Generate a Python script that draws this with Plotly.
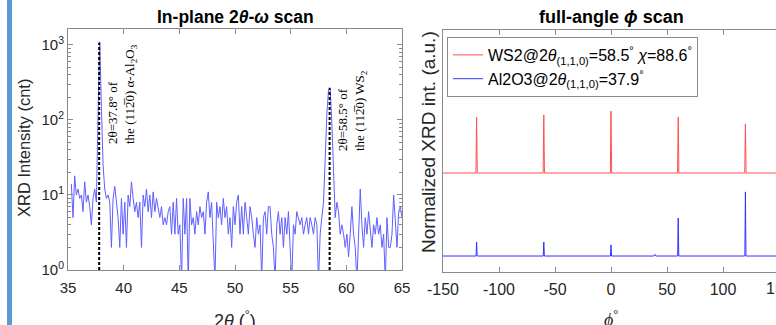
import plotly.graph_objects as go

W, H = 776, 325

# ---------------- Left panel: in-plane 2theta-omega scan ----------------
two_theta_start = 35.3
two_theta_step = 0.15
counts = [
    14, 5, 18, 10, 12, 9, 10, 6, 15, 8,
    10, 7, 4, 9, 12, 8, 120, 1100, 150, 25,
    12, 9, 10, 8, 2, 9, 13, 8, 5, 2,
    9, 3, 8, 2, 10, 7, 15, 9, 6, 8,
    5, 8, 2, 10, 7, 12, 6, 10, 5, 11,
    6, 9, 7, 5, 7, 4, 5, 4, 6, 7,
    3, 8, 3, 9, 3, 4, 0.7, 9, 3, 9,
    0.7, 9, 4, 5, 3, 6, 4, 7, 5, 6,
    3, 8, 11, 5, 8, 3, 0.7, 8, 5, 7,
    4, 9, 5, 7, 3, 5, 2, 7, 4, 8,
    10, 3, 7, 3, 8, 5, 3, 7, 5, 3,
    2, 5, 3, 4, 0.7, 5, 6, 3, 7, 7,
    3, 2, 0.7, 4, 6, 3, 5, 2, 5, 3,
    6, 2, 0.7, 4, 3, 6, 5, 4, 5, 3,
    4, 5, 3, 5, 4, 3, 5, 4, 0.7, 3,
    5, 8, 30, 120, 250, 260, 90, 15, 5, 8,
    6, 3, 4, 3, 2, 3, 1.5, 3, 7, 3,
    2, 0.7, 3, 12, 4, 2, 5, 3, 6, 3,
    2, 4, 3, 5, 3, 4, 2, 3, 0.7, 5,
    2, 2, 3, 10, 4, 2, 6, 7, 5,
]
two_theta = [round(two_theta_start + two_theta_step * i, 2) for i in range(len(counts))]

peak_pos = [37.8, 58.5]
peak_top = [1070, 268]
peak_labels = [
    "2θ=37.8° of<br>the (112\u03050) α-Al<sub>2</sub>O<sub>3</sub>",
    "2θ=58.5° of<br>the (112\u03050) WS<sub>2</sub>",
]

x_ticks_left = [35, 40, 45, 50, 55, 60, 65]
y_ticks_left = [1, 10, 100, 1000]
y_ticktext_left = ["10<sup>0</sup>", "10<sup>1</sup>", "10<sup>2</sup>", "10<sup>3</sup>"]
y_minor_left = [m * 10 ** k for k in range(0, 4) for m in range(2, 10)]

# ---------------- Right panel: full-angle phi scan ----------------
phi_ws2 = [-150, -120.6, -120, -119.4, -60.6, -60, -59.4, -0.6, 0, 0.6,
           59.4, 60, 60.6, 119.4, 120, 120.6, 150]
int_ws2 = [0.409, 0.409, 0.640, 0.409, 0.409, 0.649, 0.409, 0.409, 0.665, 0.409,
           0.409, 0.640, 0.409, 0.409, 0.612, 0.409, 0.409]
phi_al2o3 = [-150, -120.5, -120, -119.5, -60.5, -60, -59.5, -0.5, 0, 0.5,
             38, 39, 40, 59.5, 60, 60.5, 119.5, 120, 120.5, 150]
int_al2o3 = [0.066, 0.066, 0.124, 0.066, 0.066, 0.124, 0.066, 0.066, 0.112, 0.066,
             0.066, 0.073, 0.066, 0.066, 0.223, 0.066, 0.066, 0.331, 0.066, 0.066]
x_ticks_right = [-150, -100, -50, 0, 50, 100]
x_ticktext_right = ["-150", "-100", "-50", "0", "50", "100"]

legend_ws2 = "WS2@2<i>θ</i><sub>(1,1,0)</sub>=58.5<sup>°</sup> <i>χ</i>=88.6<sup>°</sup>"
legend_al2o3 = "Al2O3@2<i>θ</i><sub>(1,1,0)</sub>=37.9<sup>°</sup>"

SANS = "Liberation Sans, Arial, sans-serif"
SERIF = "Liberation Serif, Times New Roman, serif"
AXC = "#8a8a8a"
TXC = "#262626"

fig = go.Figure()

fig.add_trace(go.Scatter(x=two_theta, y=counts, mode="lines",
                         line=dict(color="rgb(95,95,255)", width=1),
                         showlegend=False, xaxis="x", yaxis="y"))
for p, t in zip(peak_pos, peak_top):
    fig.add_trace(go.Scatter(x=[p, p], y=[1, t], mode="lines",
                             line=dict(color="black", width=2, dash="3px,2px"),
                             showlegend=False, xaxis="x", yaxis="y"))

fig.add_trace(go.Scatter(x=phi_ws2, y=int_ws2, mode="lines", name=legend_ws2,
                         line=dict(color="rgb(255,80,80)", width=1),
                         xaxis="x2", yaxis="y2"))
fig.add_trace(go.Scatter(x=phi_al2o3, y=int_al2o3, mode="lines", name=legend_al2o3,
                         line=dict(color="rgb(50,50,255)", width=1),
                         xaxis="x2", yaxis="y2"))

def px(x):
    return x / W

def py(y):
    return (H - y) / H

annotations = [
    dict(text="<b>In-plane 2<i>θ</i>-<i>ω</i> scan</b>", x=px(236), y=py(17),
         font=dict(size=17.5, family=SANS, color="black")),
    dict(text="<b>full-angle <i>ϕ</i> scan</b>", x=px(611), y=py(17),
         font=dict(size=18, family=SANS, color="black")),
    dict(text="XRD Intensity (cnt)", x=px(24), y=py(148), textangle=-90,
         font=dict(size=16.5, family=SANS, color=TXC)),
    dict(text="2<i>θ</i> (<sup>°</sup>)", x=px(235), y=py(319),
         font=dict(size=18, family=SANS, color=TXC)),
    dict(text="Normalized XRD int. (a.u.)", x=px(428), y=py(142), textangle=-90,
         font=dict(size=19, family=SANS, color=TXC)),
    dict(text="<i>ϕ</i><sup>°</sup>", x=px(611), y=py(318),
         font=dict(size=18, family=SERIF, color=TXC)),
    dict(text="150", x=px(779), y=py(288),
         font=dict(size=16, family=SANS, color=TXC)),
    dict(text=peak_labels[0], x=px(122), y=py(94), textangle=-90, align="left",
         font=dict(size=13, family=SERIF, color="black")),
    dict(text=peak_labels[1], x=px(352), y=py(111), textangle=-90, align="left",
         font=dict(size=13, family=SERIF, color="black")),
]
for a in annotations:
    a.update(xref="paper", yref="paper", showarrow=False,
             xanchor="center", yanchor="middle")

fig.update_layout(
    width=W, height=H,
    margin=dict(l=0, r=0, t=0, b=0, autoexpand=False),
    paper_bgcolor="white", plot_bgcolor="white",
    font=dict(family=SANS, color=TXC),
    xaxis=dict(domain=[px(68), px(402)], range=[35, 65], anchor="y", automargin=False,
               tickmode="array", tickvals=x_ticks_left, ticks="inside", ticklen=5,
               ticklabelstandoff=4,
               tickcolor=AXC, showline=True, linecolor=AXC, linewidth=1,
               mirror="ticks", showgrid=False, zeroline=False,
               tickfont=dict(size=15, family=SANS, color=TXC)),
    yaxis=dict(domain=[py(270), py(29)], type="log", range=[0, 3.213], anchor="x",
               automargin=False,
               tickmode="array", tickvals=y_ticks_left, ticktext=y_ticktext_left,
               ticks="inside", ticklen=5, tickcolor=AXC,
               minor=dict(tickvals=y_minor_left, ticks="inside", ticklen=3,
                          tickcolor=AXC, showgrid=False),
               showline=True, linecolor=AXC, linewidth=1, mirror="ticks",
               showgrid=False, zeroline=False,
               tickfont=dict(size=15, family=SANS, color=TXC)),
    xaxis2=dict(domain=[px(443), 1.0], range=[-150, 147.3], anchor="y2", automargin=False,
                tickmode="array", tickvals=x_ticks_right, ticktext=x_ticktext_right,
                ticks="inside", ticklen=5, tickcolor=AXC, ticklabelstandoff=3,
                showline=True, linecolor=AXC, linewidth=1, mirror="ticks",
                showgrid=False, zeroline=False,
                tickfont=dict(size=16, family=SANS, color=TXC)),
    yaxis2=dict(domain=[py(272), py(30)], range=[0, 1], anchor="x2", automargin=False,
                showticklabels=False, ticks="", showline=True, linecolor=AXC,
                linewidth=1, mirror=False, showgrid=False, zeroline=False),
    legend=dict(x=px(447), y=py(37), xanchor="left", yanchor="top",
                bgcolor="white", bordercolor=AXC, borderwidth=1,
                font=dict(size=16, family=SANS, color="black"),
                itemwidth=30, tracegroupgap=0),
    annotations=annotations,
    shapes=[dict(type="rect", xref="paper", yref="paper",
                 x0=px(7), x1=px(12), y0=0, y1=1,
                 fillcolor="#5b9bd5", line=dict(width=0), layer="above")],
)

fig.write_html("out.html", config={"displayModeBar": False},
               post_script="document.body.style.margin='0';document.body.style.overflow='hidden';")
